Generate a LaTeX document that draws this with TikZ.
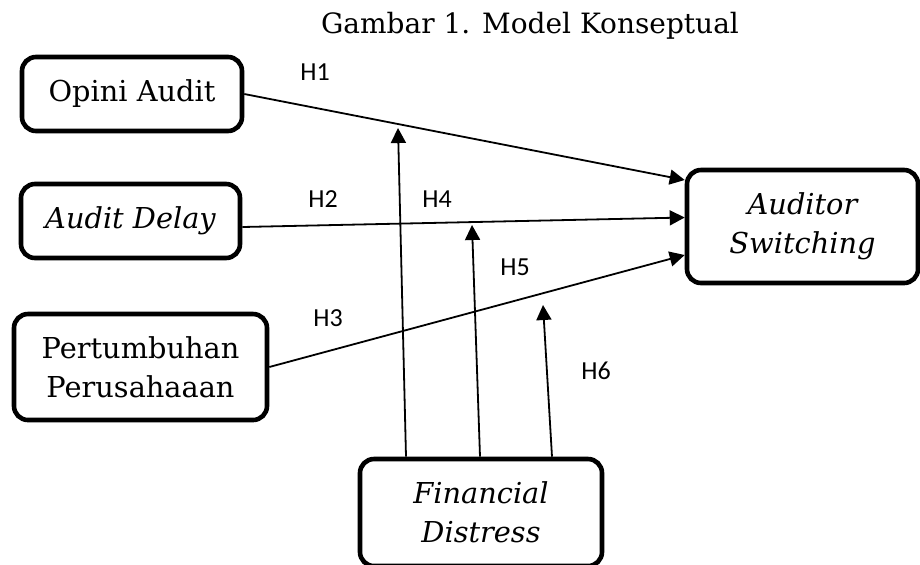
\documentclass[tikz,border=0pt]{standalone}
\usepackage{fontspec}
\setmainfont{DejaVu Serif}
\newfontfamily\hfont{Carlito}
\usetikzlibrary{arrows.meta}

\begin{document}
\begin{tikzpicture}[x=0.5pt,y=-0.5pt,>={Triangle[length=7.5pt,width=7.5pt]},
  box/.style={draw,line width=2.3pt,rounded corners=7pt,align=center,inner sep=0pt,font=\fontsize{14.4}{19.5}\selectfont},
  ibox/.style={box,font=\fontsize{14.4}{19.5}\selectfont\itshape},
  hyp/.style={font=\hfont\fontsize{13}{15}\selectfont,anchor=base},
  line/.style={line width=0.9pt}]
\useasboundingbox (0,0) rectangle (920,564);
\node[anchor=base,font=\fontsize{14}{16}\selectfont] (title) at (530,33) {Gambar 1. Model Konseptual};
\node[box,minimum width=110pt,minimum height=37pt] (oa) at (132,94) {Opini Audit};
\node[ibox,minimum width=109.5pt,minimum height=37pt] (ad) at (130.5,221) {Audit Delay};
\node[box,minimum width=126.5pt,minimum height=53pt] (pp) at (140.5,367) {Pertumbuhan\\Perusahaaan};
\node[ibox,minimum width=115.5pt,minimum height=56.5pt] (as) at (802.5,226.5) {Auditor\\Switching};
\node[ibox,minimum width=121pt,minimum height=53.5pt] (fd) at (481,512.5) {Financial\\Distress};
\coordinate (m1) at (398,128);
\coordinate (m2) at (472,225);
\coordinate (m3) at (543,305);
\path[->,line] (oa.east) edge ([yshift=23.25pt]as.west)
  ([yshift=-3pt]ad.east) edge ([yshift=4.5pt]as.west)
  (pp.east) edge ([yshift=-14.25pt]as.west);
\path[->,line] ([xshift=-37.5pt]fd.north) edge (m1)
  ([xshift=-0.5pt]fd.north) edge (m2)
  ([xshift=35.5pt]fd.north) edge (m3);
\node[hyp] (h1) at (315,80) {H1};
\node[hyp] (h2) at (323,207) {H2};
\node[hyp] (h4) at (437,207) {H4};
\node[hyp] (h5) at (515,275) {H5};
\node[hyp] (h3) at (328,326) {H3};
\node[hyp] (h6) at (596,379) {H6};
\end{tikzpicture}
\end{document}
